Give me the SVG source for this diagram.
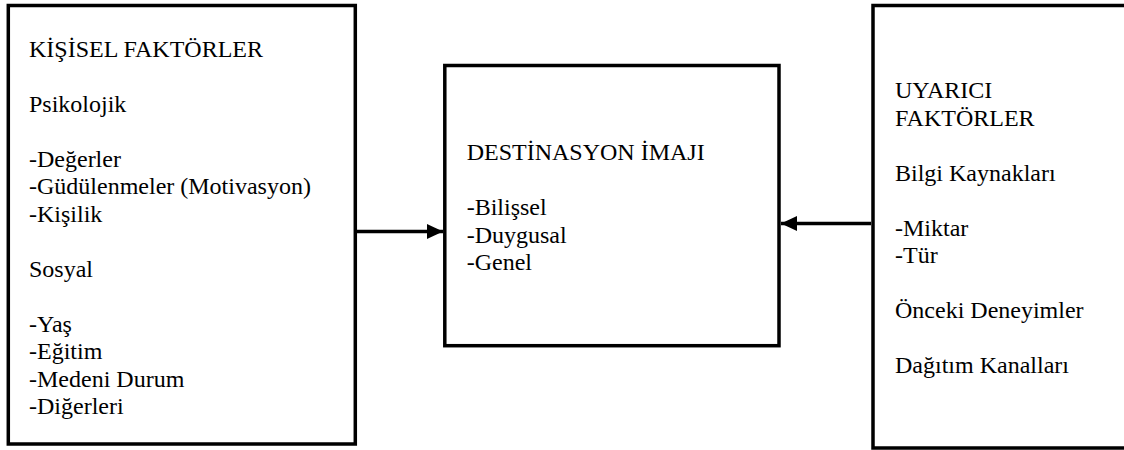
<svg xmlns="http://www.w3.org/2000/svg" width="1124" height="450" viewBox="0 0 1124 450">
<style>
.box{fill:#fff;stroke:#000;stroke-width:3.5}
text{font-family:'Liberation Serif','DejaVu Serif',serif;font-size:24px;fill:#000}
.c{stroke:#000;stroke-width:3.5;fill:none}
</style>
<defs>
<marker id="ah" viewBox="0 0 16 15" refX="16" refY="7.5" markerWidth="16" markerHeight="15" markerUnits="userSpaceOnUse" orient="auto">
<path d="M0,0 L16,7.5 L0,15 Z" fill="#000"/>
</marker>
</defs>
<rect width="1124" height="450" fill="#fff"/>
<g id="kisisel" font-family="Liberation Serif, serif">
<rect class="box" x="8.3" y="5.5" width="347" height="438.5"/>
<text x="29" y="56.5">KİŞİSEL FAKTÖRLER</text>
<text x="29" y="111.5">Psikolojik</text>
<text x="29" y="166.5">-Değerler</text>
<text x="29" y="194">-Güdülenmeler (Motivasyon)</text>
<text x="29" y="221.5">-Kişilik</text>
<text x="29" y="276.5">Sosyal</text>
<text x="29" y="331.5">-Yaş</text>
<text x="29" y="359">-Eğitim</text>
<text x="29" y="386.5">-Medeni Durum</text>
<text x="29" y="414">-Diğerleri</text>
</g>
<g id="destinasyon">
<rect class="box" x="444.8" y="65.5" width="334.2" height="280.2"/>
<text x="466.7" y="160">DESTİNASYON İMAJI</text>
<text x="466.7" y="215">-Bilişsel</text>
<text x="466.7" y="242.5">-Duygusal</text>
<text x="466.7" y="270">-Genel</text>
</g>
<g id="uyarici">
<rect class="box" x="873" y="5.5" width="260" height="442.5"/>
<text x="895" y="98.3">UYARICI</text>
<text x="895" y="125.8">FAKTÖRLER</text>
<text x="895" y="180.8">Bilgi Kaynakları</text>
<text x="895" y="235.8">-Miktar</text>
<text x="895" y="263.3">-Tür</text>
<text x="895" y="318.3">Önceki Deneyimler</text>
<text x="895" y="373.3">Dağıtım Kanalları</text>
</g>
<g id="connectors">
<line class="c" x1="357" y1="231.5" x2="443" y2="231.5" marker-end="url(#ah)"/>
<line class="c" x1="871" y1="223.5" x2="781" y2="223.5" marker-end="url(#ah)"/>
</g>
</svg>
